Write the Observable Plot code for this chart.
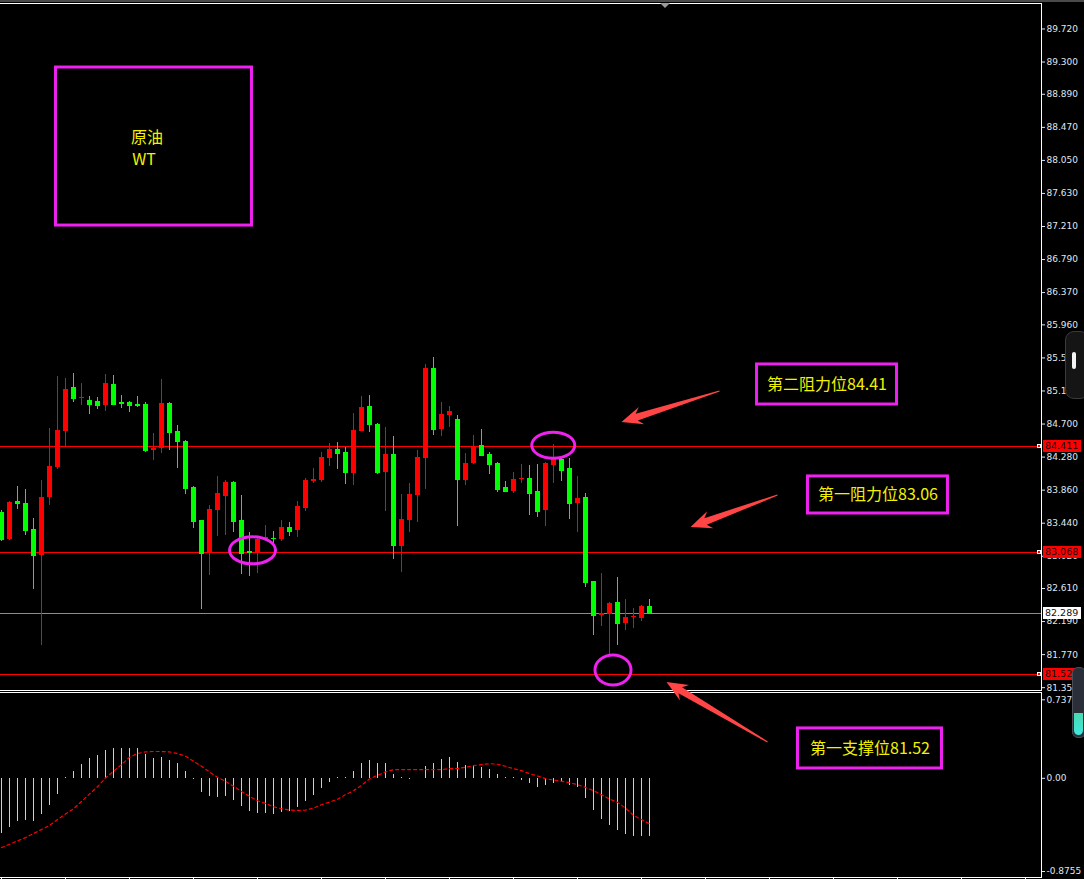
<!DOCTYPE html>
<html><head><meta charset="utf-8">
<script src="https://cdn.jsdelivr.net/npm/d3@7"></script>
<script src="https://cdn.jsdelivr.net/npm/@observablehq/plot@0.6"></script>
<style>
html,body{margin:0;padding:0;background:#000;}
#wrap{position:relative;width:1084px;height:879px;background:#000;overflow:hidden;}
#topbar{position:absolute;left:0;top:0;width:1084px;height:2px;background:#4a4a4a;}
#main{position:absolute;left:0;top:0;z-index:2;}
#macd{position:absolute;left:0;top:691px;z-index:1;}
svg{overflow:visible}
#shift{position:absolute;left:660px;top:3px;width:0;height:0;border-left:5px solid transparent;border-right:5px solid transparent;border-top:5px solid #9a9a9a;z-index:3;}
#g1{position:absolute;left:1065px;top:331px;width:22px;height:66px;border-radius:9px;background:#151515;border:1px solid #3a3a3a;z-index:3;}
#g1 i{position:absolute;left:6px;top:20px;width:4px;height:17px;border-radius:2px;background:#f4f4f4;}
#g2{position:absolute;left:1072px;top:667px;width:12px;height:69px;border-radius:6px;background:#2a2e38;border:1px solid #4a4e58;z-index:3;overflow:hidden;}
#g2 i{position:absolute;left:1px;top:45px;width:9px;height:22px;border-radius:0 0 5px 5px;background:linear-gradient(#4ad9b0,#3ee8e0);}
</style></head>
<body>
<div id="wrap"><div id="topbar"></div><div id="shift"></div><div id="main"></div><div id="macd"></div><div id="g1"><i></i></div><div id="g2"><i></i></div></div>
<script>
// ---- data ----
const open  = [83.58,83.23,83.71,83.69,83.36,83.03,83.77,84.15,84.60,85.16,85.03,85.00,84.98,84.93,85.20,84.97,84.97,84.95,84.95,84.36,84.39,84.96,84.60,84.48,83.89,83.47,83.06,83.60,83.78,83.96,83.47,83.08,83.07,83.23,83.25,83.23,83.39,83.35,83.63,83.97,83.98,84.26,84.38,84.34,84.07,84.61,84.92,84.70,84.09,84.31,83.14,83.48,83.79,84.26,85.41,84.63,84.81,84.76,83.98,84.20,84.43,84.31,84.20,83.89,83.84,84.00,84.01,83.84,83.60,84.17,84.25,84.14,83.69,83.77,82.70,82.27,82.28,82.43,82.17,82.24,82.23,82.38];
const high  = [83.60,83.72,83.91,83.87,83.50,83.98,84.64,85.30,85.28,85.34,85.22,85.05,85.04,85.33,85.32,85.06,84.99,85.05,84.97,84.58,85.27,84.97,84.68,84.49,83.90,83.48,83.67,84.03,83.98,83.97,83.79,83.32,83.24,83.41,83.34,83.48,83.45,83.72,84.01,84.14,84.34,84.45,84.47,84.40,84.83,85.05,85.06,84.71,84.66,84.54,83.81,83.95,84.36,85.46,85.55,84.97,84.92,84.81,84.33,84.56,84.63,84.34,84.21,83.97,84.09,84.19,84.17,84.19,84.21,84.44,84.26,84.26,84.03,83.82,82.70,82.80,82.43,82.75,82.47,82.36,82.39,82.47];
const low   = [83.21,83.22,83.61,83.28,82.60,81.88,83.67,84.12,84.41,84.97,84.94,84.82,84.89,84.86,84.94,84.90,84.85,84.91,84.34,84.24,84.33,84.36,84.14,83.80,83.37,82.34,82.78,83.27,83.28,83.32,82.79,82.76,82.80,83.22,83.16,83.21,83.27,83.26,83.59,83.95,83.96,84.16,84.12,83.93,83.92,84.60,84.59,84.06,83.59,82.98,82.81,83.32,83.45,83.87,84.56,84.54,84.66,83.40,83.92,84.19,84.29,84.06,83.83,83.83,83.82,83.95,83.54,83.51,83.40,83.95,83.97,83.49,83.32,82.62,82.01,82.13,81.76,81.89,82.08,82.10,82.19,82.28];
const close = [83.23,83.70,83.69,83.35,83.03,83.77,84.16,84.62,85.14,85.03,85.04,84.95,84.94,85.22,84.95,84.96,84.94,84.94,84.36,84.39,84.96,84.59,84.48,83.88,83.46,83.06,83.61,83.82,83.96,83.46,83.06,83.07,83.23,83.26,83.24,83.39,83.34,83.65,83.98,84.00,84.28,84.38,84.33,84.09,84.62,84.91,84.69,84.09,84.31,83.16,83.49,83.81,84.28,85.41,84.63,84.82,84.86,84.00,84.20,84.40,84.30,84.19,83.87,83.84,84.00,84.01,83.82,83.59,84.20,84.25,84.11,83.69,83.75,82.69,82.27,82.29,82.42,82.17,82.24,82.26,82.38,82.289];

const macdHist = [-0.519,-0.462,-0.406,-0.396,-0.406,-0.340,-0.255,-0.151,0.01,0.066,0.132,0.189,0.217,0.264,0.283,0.283,0.283,0.283,0.226,0.189,0.198,0.170,0.142,0.066,-0.01,-0.132,-0.170,-0.179,-0.170,-0.208,-0.264,-0.311,-0.330,-0.330,-0.340,-0.321,-0.311,-0.274,-0.217,-0.160,-0.094,-0.038,0.005,0.01,0.066,0.142,0.170,0.142,0.142,0.038,0.003,-0.01,0.0,0.113,0.142,0.179,0.198,0.151,0.123,0.113,0.104,0.085,0.038,0.003,0.003,-0.019,-0.047,-0.085,-0.066,-0.047,-0.038,-0.066,-0.085,-0.189,-0.302,-0.387,-0.443,-0.491,-0.528,-0.547,-0.547,-0.547];
const macdSignal = [-0.651,-0.619,-0.588,-0.557,-0.519,-0.481,-0.443,-0.387,-0.336,-0.286,-0.217,-0.148,-0.079,0.003,0.066,0.129,0.198,0.233,0.248,0.252,0.252,0.248,0.233,0.208,0.160,0.113,0.060,0.009,-0.028,-0.075,-0.123,-0.170,-0.211,-0.236,-0.267,-0.286,-0.299,-0.302,-0.299,-0.280,-0.248,-0.223,-0.197,-0.154,-0.116,-0.066,-0.006,0.028,0.060,0.082,0.082,0.082,0.082,0.082,0.082,0.082,0.091,0.091,0.104,0.119,0.129,0.138,0.132,0.113,0.091,0.072,0.044,0.022,-0.003,-0.016,-0.028,-0.041,-0.060,-0.085,-0.116,-0.154,-0.195,-0.226,-0.280,-0.349,-0.387,-0.428];

const priceTicks = [89.72,89.30,88.89,88.47,88.05,87.63,87.21,86.79,86.37,85.96,85.54,85.12,84.70,84.28,83.86,83.44,83.02,82.61,82.19,81.77,81.35];
const macdTicks = [0.7377, 0, -0.8755];
const macdTickLabels = ["0.7377", "0.00", "-0.8755"];
const timeTicks = [0,8,16,24,32,40,48,56,64,72,80,88,96,104,112,120,128];

const levelPrices = [84.411, 83.068, 82.289, 81.522];
const levelLabels = ["84.411", "83.068", "82.289", "81.522"];
const levelColors = ["#ff0000", "#ff0000", "#8c8c8c", "#ff0000"];
const tagColors   = ["#ff0000", "#ff0000", "#ffffff", "#ff0000"];

// annotations, anchored in (bar index, price) space
const boxTexts = ["第二阻力位84.41", "第一阻力位83.06", "第一支撑位81.52"];
const boxX1 = [6.81, 94.44, 100.81, 99.56];
const boxX2 = [31.31, 111.94, 118.31, 117.56];
const boxY1 = [89.23, 85.457, 84.034, 80.832];
const boxY2 = [87.222, 84.948, 83.563, 80.323];
const titleLines = ["原油", "WT"];
const titleX = [18.19, 17.81];
const titleY = [88.341, 88.061];
const circleX = [31.44, 69.03, 76.5];
const circleY = [83.089, 84.424, 81.568];
const circleRX = [2.875, 2.69, 2.25];
const circleRY = [0.172, 0.165, 0.19];
const arrowTailX = [89.81, 97.06, 95.81];
const arrowTailY = [85.114, 83.792, 80.654];
const arrowTipX = [77.56, 86.19, 83.19];
const arrowTipY = [84.720, 83.386, 81.416];

// ---- tables for the library ----
const candles = open.map((o, i) => ({i, o, h: high[i], l: low[i], c: close[i], col: close[i] >= o ? "#ff0000" : "#00ff00"}));
const levels = levelPrices.map((p, k) => ({p, label: levelLabels[k], color: levelColors[k], tag: tagColors[k]}));
const hist = macdHist.map((v, i) => ({i, v}));
const sig = macdSignal.map((v, i) => ({i, v}));
const boxes = boxX1.map((x1, k) => ({x1, x2: boxX2[k], y1: boxY1[k], y2: boxY2[k]}));
const boxLabels = boxTexts.map((t, k) => ({t, x: (boxX1[k + 1] + boxX2[k + 1]) / 2, y: (boxY1[k + 1] + boxY2[k + 1]) / 2}));
const titles = titleLines.map((t, k) => ({t, x: titleX[k], y: titleY[k]}));
const circles = circleX.map((cx, k) => ({cx, cy: circleY[k], rx: circleRX[k], ry: circleRY[k]}));
const arrows = arrowTailX.map((x1, k) => ({x1, y1: arrowTailY[k], x2: arrowTipX[k], y2: arrowTipY[k]}));

const XDOM = [-0.125, 130];
const axisColor = "#dfe7f3";
const baseStyle = {background: "transparent", color: axisColor, fontFamily: "DejaVu Sans", fontSize: "9px", overflow: "visible"};

function frameLines(index, scales, values, dims) {
  const {width, height, marginTop, marginRight, marginBottom} = dims;
  const g = d3.create("svg:g").attr("stroke", "#ffffff").attr("stroke-width", 1).attr("shape-rendering", "crispEdges");
  const xr = width - marginRight + 0.5;
  const yt = dims.topLine, yb = height - marginBottom + 0.5;
  g.append("line").attr("x1", 0).attr("x2", xr).attr("y1", yt).attr("y2", yt);
  g.append("line").attr("x1", 0).attr("x2", xr).attr("y1", yb).attr("y2", yb);
  g.append("line").attr("x1", xr).attr("x2", xr).attr("y1", yt).attr("y2", yb);
  return g.node();
}
const mainFrame = (i, s, v, d) => frameLines(i, s, v, {...d, topLine: d.marginTop - 0.5});
const macdFrame = (i, s, v, d) => frameLines(i, s, v, {...d, topLine: d.marginTop + 0.5});

function tagsMark(index, {y}, values, dims) {
  const g = d3.create("svg:g").attr("text-anchor", "start");
  const xr = dims.width - dims.marginRight;
  for (const L of levels) {
    const yy = Math.round(y(L.p));
    g.append("rect").attr("x", xr + 2).attr("y", yy - 6).attr("width", 38).attr("height", 12).attr("fill", L.tag).attr("shape-rendering", "crispEdges");
    g.append("text").attr("x", xr + 4).attr("y", yy).attr("dy", "0.36em").attr("text-anchor", "start").attr("fill", "#111").attr("font-size", 9.5).text(L.label);
    if (L.tag !== "#ffffff") {
      g.append("rect").attr("x", xr - 3.5).attr("y", yy - 1.5).attr("width", 3).attr("height", 3).attr("fill", "#ff0000").attr("stroke", "#ffffff").attr("shape-rendering", "crispEdges");
    }
  }
  return g.node();
}

function boxesMark(index, {x, y}) {
  const g = d3.create("svg:g").attr("fill", "none").attr("stroke", "#ee22ee").attr("stroke-width", 3);
  for (const b of boxes) {
    const X1 = x(b.x1), X2 = x(b.x2), Y1 = y(b.y1), Y2 = y(b.y2);
    g.append("rect").attr("x", X1).attr("y", Y1).attr("width", X2 - X1).attr("height", Y2 - Y1);
  }
  return g.node();
}
function circlesMark(index, {x, y}) {
  const g = d3.create("svg:g").attr("fill", "none").attr("stroke", "#ee22ee").attr("stroke-width", 3);
  for (const e of circles) {
    g.append("ellipse").attr("cx", x(e.cx)).attr("cy", y(e.cy))
      .attr("rx", Math.abs(x(e.cx + e.rx) - x(e.cx))).attr("ry", Math.abs(y(e.cy + e.ry) - y(e.cy)));
  }
  return g.node();
}
function arrowsMark(index, {x, y}) {
  const g = d3.create("svg:g").attr("fill", "#ff4545");
  for (const a of arrows) {
    const tx = x(a.x1), ty = y(a.y1), px = x(a.x2), py = y(a.y2);
    const dx = tx - px, dy = ty - py, L = Math.hypot(dx, dy);
    const ux = dx / L, uy = dy / L, nx = -uy, ny = ux;
    const P = (s, t) => [px + ux * s + nx * t, py + uy * s + ny * t];
    const pts = [P(0, 0), P(21, 9), P(16, 3.5), P(L, 0.6), P(L, -0.6), P(16, -3.5), P(21, -9)];
    g.append("polygon").attr("points", pts.map(p => p.join(",")).join(" "));
  }
  return g.node();
}

const bodyX1 = d => d.i - 0.3125, bodyX2 = d => d.i + 0.3125;

const main = Plot.plot({
  width: 1084, height: 691,
  marginLeft: 0, marginRight: 43, marginTop: 4, marginBottom: 1,
  x: {domain: XDOM, axis: null},
  y: {domain: [81.314, 90.031], label: null},
  color: {type: "identity"},
  style: baseStyle,
  marks: [
    Plot.ruleY(levels, {y: "p", stroke: "color", shapeRendering: "crispEdges"}),
    Plot.ruleX(candles, {x: "i", y1: "l", y2: "h", stroke: "col", shapeRendering: "crispEdges"}),
    Plot.rect(candles, {x1: bodyX1, x2: bodyX2, y1: "o", y2: "c", fill: "col", shapeRendering: "crispEdges"}),
    Plot.ruleY(candles, {y: "c", x1: bodyX1, x2: bodyX2, stroke: "col", shapeRendering: "crispEdges"}),
    Plot.axisY({anchor: "right", ticks: priceTicks, tickFormat: d => d.toFixed(3), tickSize: 3, tickPadding: 2, label: null}),
    tagsMark,
    mainFrame,
    boxesMark,
    circlesMark,
    arrowsMark,
    Plot.text(titles, {x: "x", y: "y", text: "t", fill: "#f2f200", fontSize: 16, fontFamily: "Noto Sans CJK SC", textAnchor: "middle"}),
    Plot.text(boxLabels, {x: "x", y: "y", text: "t", fill: "#f2f200", fontSize: 16, fontFamily: "Noto Sans CJK SC", textAnchor: "middle"})
  ]
});
document.getElementById("main").appendChild(main);

const macd = Plot.plot({
  width: 1084, height: 188,
  marginLeft: 0, marginRight: 43, marginTop: 1, marginBottom: 2,
  x: {domain: XDOM},
  y: {domain: [-0.9318, 0.8062], label: null},
  style: baseStyle,
  marks: [
    Plot.ruleX(hist, {x: "i", y1: 0, y2: "v", stroke: "#cfcfcf", shapeRendering: "crispEdges"}),
    Plot.line(sig, {x: "i", y: "v", stroke: "#ff0000", strokeWidth: 1.2, strokeDasharray: "3,3"}),
    Plot.axisY({anchor: "right", ticks: macdTicks, tickFormat: (d, k) => macdTickLabels[macdTicks.indexOf(d)], tickSize: 3, tickPadding: 2, label: null}),
    Plot.axisX({anchor: "bottom", ticks: timeTicks, tickFormat: () => "", tickSize: 3, label: null, stroke: "#ffffff"}),
    macdFrame
  ]
});
document.getElementById("macd").appendChild(macd);
</script>
</body></html>
